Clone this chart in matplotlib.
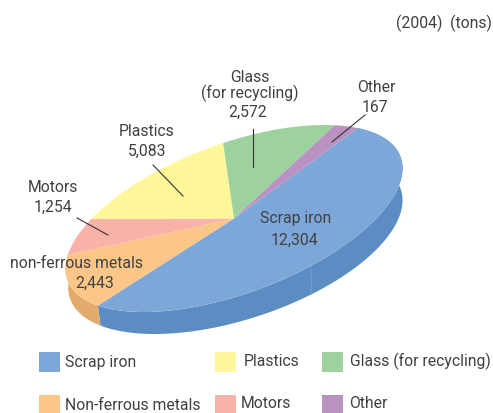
import numpy as np
import matplotlib
matplotlib.use("Agg")
import matplotlib.pyplot as plt
from matplotlib.patches import Wedge, Rectangle, Polygon
from matplotlib.transforms import Affine2D

categories = ["Scrap iron", "Non-ferrous metals", "Motors", "Plastics", "Glass (for recycling)", "Other"]
tons = [12304, 2443, 1254, 5083, 2572, 167]
# sweep of each slice in degrees, as drawn in the picture
drawn_sweep = [186.5, 45.8, 22.5, 54.2, 40.4, 10.6]
top_colors = ["#7DA7D9", "#FDC689", "#F9B2A8", "#FFF799", "#9DD19E", "#B992C2"]
side_colors = {"Scrap iron": "#5B8DC2", "Non-ferrous metals": "#E3AB6B"}

W, H = 493, 413
plt.rcParams["font.family"] = ["Roboto", "DejaVu Sans"]
TXT = "#404040"
FS = 11.3

fig = plt.figure(figsize=(W / 100, H / 100), dpi=100)
ax = fig.add_axes([0, 0, 1, 1])
ax.set_xlim(0, W)
ax.set_ylim(H, 0)
ax.axis("off")

cx, cy, a, b, phi, start = 234, 218.5, 177.6, 74.9, 20.35, -33.8
pie = Affine2D().scale(a, b).rotate_deg(-phi).translate(cx, cy)


def rim(t0, t1):
    t = np.radians(np.linspace(t0, t1, 200))
    return pie.transform(np.c_[np.cos(t), np.sin(t)])


def drop(p):
    x, y = p[:, 0], p[:, 1]
    depth = 20 + (x - 98) * (32 - 20) / (403 - 98)
    return np.c_[x + (403 - x) * 0.008, y + depth]


edges = start + np.r_[0, np.cumsum(drawn_sweep)]
for name, t0, t1 in zip(categories, edges[:-1], edges[1:]):
    if name in side_colors:
        top = rim(t0, t1)
        ax.add_patch(Polygon(np.r_[top, drop(top)[::-1]], fc=side_colors[name], ec="none", zorder=1))

# seam on the blue side wall
seam_t = 71.7
p = rim(seam_t, seam_t + 0.01)[:1]
ax.plot([p[0, 0], drop(p)[0, 0]], [p[0, 1], drop(p)[0, 1]], color="#74A0D0", lw=0.7, zorder=2)

for col, t0, t1 in zip(top_colors, edges[:-1], edges[1:]):
    ax.add_patch(Wedge((0, 0), 1, t0, t1, fc=col, ec="none", transform=pie + ax.transData, zorder=3))

leaders = [((153, 165), (183, 196)), ((77, 218), (108, 235)), ((253, 129), (253, 167)), ((365, 115), (332, 142))]
for (x0, y0), (x1, y1) in leaders:
    ax.plot([x0, x1], [y0, y1], color="#333333", lw=0.8, zorder=4)

labels = [
    ("Scrap iron", 296, 218), (f"{tons[0]:,}", 294, 240),
    ("non-ferrous metals", 76, 263), (f"{tons[1]:,}", 95, 283),
    ("Motors", 53, 187), (f"{tons[2]:,}", 53, 207),
    ("Plastics", 147, 132), (f"{tons[3]:,}", 147, 151),
    ("Glass", 250, 77), ("(for recycling)", 250, 93), (f"{tons[4]:,}", 248, 112),
    ("Other", 376, 88), (f"{tons[5]:,}", 375, 107),
]
for s, x, y in labels:
    ax.text(x, y, s, ha="center", va="center", fontsize=FS, color=TXT, zorder=5)

ax.text(492, 23, "(2004)  (tons)", ha="right", va="center", fontsize=FS, color=TXT)

legend_order = ["Scrap iron", "Plastics", "Glass (for recycling)", "Non-ferrous metals", "Motors", "Other"]
swatch = [(39, 352), (215, 352), (322, 352), (39, 395), (215, 395), (322, 395)]
text_pos = [(65, 363), (244, 361), (350, 361), (65, 405), (241, 404), (349, 404)]
for name, (sx, sy), (tx, ty) in zip(legend_order, swatch, text_pos):
    ax.add_patch(Rectangle((sx, sy), 21, 20, fc=top_colors[categories.index(name)], ec="none"))
    ax.text(tx, ty, name, ha="left", va="center", fontsize=FS, color=TXT)

fig.savefig("out.png", dpi=100)
